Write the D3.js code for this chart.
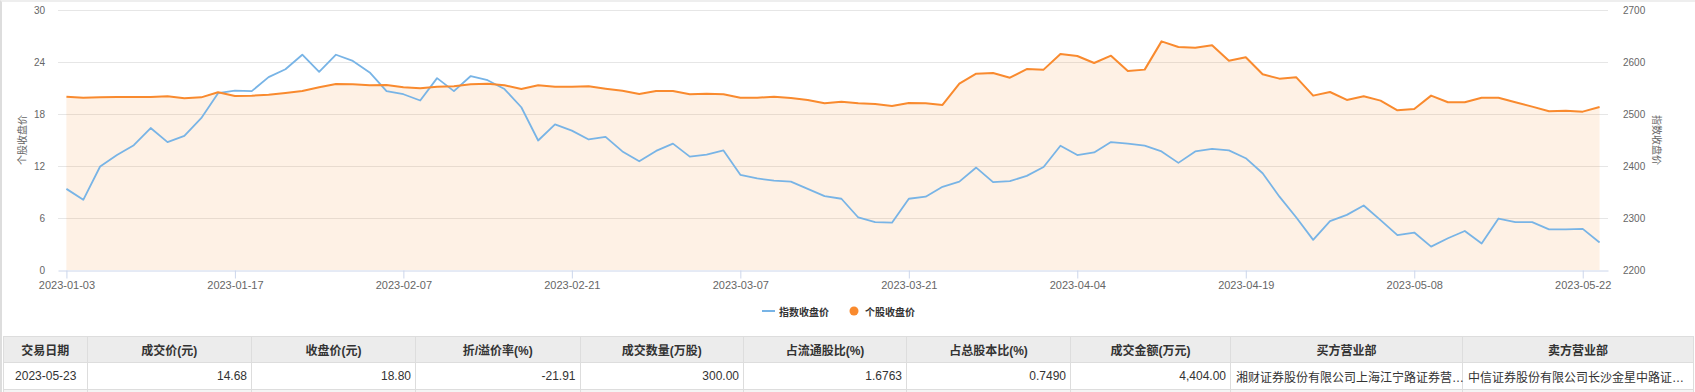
<!DOCTYPE html>
<html>
<head>
<meta charset="utf-8">
<script src="https://cdn.jsdelivr.net/npm/d3@7"></script>
<style>
  body { margin: 0; background: #fff; }
  #wrap { position: relative; width: 1695px; height: 392px; overflow: hidden;
          border-top: 2px solid #eeeeee; border-left: 2px solid #dddddd; box-sizing: border-box; }
  #chart { position: absolute; left: -2px; top: -2px; }
  #tbl { position: absolute; left: 1px; top: 334px; }
  table { border-collapse: collapse; table-layout: fixed; width: 1690px;
          font-family: "Liberation Sans", "Noto Sans CJK SC", sans-serif; font-size: 12px; color: #333; }
  th, td { border: 1px solid #dddddd; white-space: nowrap; }
  th { background: #ececec; height: 25px; font-weight: bold; text-align: center; padding: 0; }
  td { height: 26px; padding: 0 4px 0 5px; }
  tr.next td { height: 6px; background: #f4f4f4; }
</style>
</head>
<body>
<div id="wrap"><svg id="chart"></svg><div id="tbl"></div></div>
<script>
// trading days 2023-01-03 .. 2023-05-23
const dates = [
  '2023-01-03','2023-01-04','2023-01-05','2023-01-06','2023-01-09','2023-01-10','2023-01-11','2023-01-12','2023-01-13','2023-01-16',
  '2023-01-17','2023-01-18','2023-01-19','2023-01-20','2023-01-30','2023-01-31','2023-02-01','2023-02-02','2023-02-03','2023-02-06',
  '2023-02-07','2023-02-08','2023-02-09','2023-02-10','2023-02-13','2023-02-14','2023-02-15','2023-02-16','2023-02-17','2023-02-20',
  '2023-02-21','2023-02-22','2023-02-23','2023-02-24','2023-02-27','2023-02-28','2023-03-01','2023-03-02','2023-03-03','2023-03-06',
  '2023-03-07','2023-03-08','2023-03-09','2023-03-10','2023-03-13','2023-03-14','2023-03-15','2023-03-16','2023-03-17','2023-03-20',
  '2023-03-21','2023-03-22','2023-03-23','2023-03-24','2023-03-27','2023-03-28','2023-03-29','2023-03-30','2023-03-31','2023-04-03',
  '2023-04-04','2023-04-06','2023-04-07','2023-04-10','2023-04-11','2023-04-12','2023-04-13','2023-04-14','2023-04-17','2023-04-18',
  '2023-04-19','2023-04-20','2023-04-21','2023-04-24','2023-04-25','2023-04-26','2023-04-27','2023-04-28','2023-05-04','2023-05-05',
  '2023-05-08','2023-05-09','2023-05-10','2023-05-11','2023-05-12','2023-05-15','2023-05-16','2023-05-17','2023-05-18','2023-05-19',
  '2023-05-22','2023-05-23'
]
// 个股收盘价 (left axis)
const stockClose = [
  20.00,19.88,19.92,19.96,19.96,19.96,20.04,19.81,19.92,20.50,
  20.08,20.12,20.23,20.42,20.65,21.08,21.46,21.42,21.31,21.35,
  21.08,20.96,21.15,21.19,21.42,21.50,21.31,20.88,21.31,21.15,
  21.15,21.19,20.92,20.69,20.31,20.65,20.65,20.27,20.35,20.27,
  19.88,19.88,20.00,19.85,19.62,19.23,19.42,19.23,19.15,18.92,
  19.27,19.23,19.04,21.50,22.65,22.73,22.19,23.19,23.12,24.92,
  24.69,23.88,24.73,22.96,23.12,26.38,25.73,25.65,25.92,24.15,
  24.54,22.58,22.08,22.23,20.12,20.54,19.62,20.04,19.54,18.42,
  18.58,20.12,19.35,19.35,19.88,19.88,19.35,18.85,18.31,18.38,
  18.27,18.80
]
// 指数收盘价 (right axis)
const indexClose = [
  2356,2335,2399,2421,2440,2473,2446,2458,2492,2540,
  2545,2544,2571,2586,2614,2581,2614,2602,2580,2544,
  2538,2526,2569,2544,2573,2565,2548,2513,2449,2480,
  2468,2451,2456,2428,2409,2429,2443,2418,2422,2430,
  2383,2376,2372,2370,2356,2342,2337,2301,2292,2291,
  2337,2341,2360,2370,2397,2369,2371,2381,2398,2439,
  2421,2426,2446,2443,2439,2428,2406,2428,2433,2430,
  2415,2386,2341,2301,2258,2294,2306,2324,2296,2267,
  2272,2245,2261,2275,2251,2299,2292,2292,2278,2278,
  2279,2253
]
const leftTicks = [0, 6, 12, 18, 24, 30]
const rightTicks = [2200, 2300, 2400, 2500, 2600, 2700]
const seriesNames = ['指数收盘价', '个股收盘价']

const tableHeaders = ['交易日期','成交价(元)','收盘价(元)','折/溢价率(%)','成交数量(万股)','占流通股比(%)','占总股本比(%)','成交金额(万元)','买方营业部','卖方营业部']
// broker names as displayed (truncated in the source page)
const tableRow = ['2023-05-23','14.68','18.80','-21.91','300.00','1.6763','0.7490','4,404.00','湘财证券股份有限公司上海江宁路证券营…','中信证券股份有限公司长沙金星中路证…']
const colWidths = [83.5, 164.5, 164, 164.5, 163.5, 163, 164, 160, 232, 231]
const colAlign = ['center','right','right','right','right','right','right','right','left','left']

const W = 1695, H = 336
const plotL = 58, plotR = 1608, plotT = 10, plotB = 270
const fontNum = '"Liberation Sans", "Noto Sans CJK SC", sans-serif'
const fontCJK = '"Noto Sans CJK SC", sans-serif'

const svg = d3.select('#chart').attr('width', W).attr('height', H)

const x = d3.scalePoint().domain(dates).range([plotL, plotR]).padding(0.5)
const yL = d3.scaleLinear().domain([0, 30]).range([plotB, plotT])
const yR = d3.scaleLinear().domain([2200, 2700]).range([plotB, plotT])

// grid
svg.append('g')
  .selectAll('line')
  .data(leftTicks.slice(1))
  .join('line')
  .attr('x1', plotL).attr('x2', plotR)
  .attr('y1', d => yL(d) + 0.5).attr('y2', d => yL(d) + 0.5)
  .attr('stroke', '#e6e6e6')

// area for stock
const area = d3.area()
  .x((d, i) => x(dates[i]))
  .y0(yL(0))
  .y1(d => yL(d))
svg.append('path')
  .datum(stockClose)
  .attr('d', area)
  .attr('fill', 'rgba(250,140,40,0.12)')

// x axis
const xAxis = d3.axisBottom(x)
  .tickValues(dates.filter((d, i) => i % 10 === 0))
  .tickSize(8).tickSizeOuter(0).tickPadding(3)
const gx = svg.append('g').attr('transform', `translate(0,${plotB + 0.5})`).call(xAxis)
gx.select('.domain').attr('stroke', '#ccd6eb')
gx.selectAll('.tick line').attr('stroke', '#ccd6eb')
gx.selectAll('.tick text').attr('fill', '#666').style('font-family', fontNum).style('font-size', '11px')

// left axis
const gl = svg.append('g').attr('transform', `translate(${plotL},0)`)
  .call(d3.axisLeft(yL).tickValues(leftTicks).tickSize(0).tickPadding(13))
gl.select('.domain').remove()
gl.selectAll('text').attr('fill', '#666').style('font-family', fontNum).style('font-size', '10px')

// right axis
const gr = svg.append('g').attr('transform', `translate(${plotR},0)`)
  .call(d3.axisRight(yR).tickValues(rightTicks).tickFormat(d3.format('d')).tickSize(0).tickPadding(15))
gr.select('.domain').remove()
gr.selectAll('text').attr('fill', '#666').style('font-family', fontNum).style('font-size', '10px')

// axis titles
svg.append('text')
  .attr('transform', `translate(21,${(plotT + plotB) / 2}) rotate(-90)`)
  .attr('text-anchor', 'middle').attr('dominant-baseline', 'central')
  .attr('fill', '#666').style('font-family', fontCJK).style('font-size', '10px')
  .text(seriesNames[1])
svg.append('text')
  .attr('transform', `translate(1657,${(plotT + plotB) / 2}) rotate(90)`)
  .attr('text-anchor', 'middle').attr('dominant-baseline', 'central')
  .attr('fill', '#666').style('font-family', fontCJK).style('font-size', '10px')
  .text(seriesNames[0])

// lines
const lineStock = d3.line().x((d, i) => x(dates[i])).y(d => yL(d))
const lineIndex = d3.line().x((d, i) => x(dates[i])).y(d => yR(d))
svg.append('path').datum(indexClose).attr('d', lineIndex)
  .attr('fill', 'none').attr('stroke', '#78b4e6').attr('stroke-width', 1.8).attr('stroke-linejoin', 'round')
svg.append('path').datum(stockClose).attr('d', lineStock)
  .attr('fill', 'none').attr('stroke', '#f98a2e').attr('stroke-width', 2).attr('stroke-linejoin', 'round')

// legend
const lg = svg.append('g').attr('transform', 'translate(0,311)')
lg.append('line').attr('x1', 762).attr('x2', 775).attr('y1', 0).attr('y2', 0)
  .attr('stroke', '#78b4e6').attr('stroke-width', 2)
lg.append('text').attr('x', 779).attr('dominant-baseline', 'central')
  .attr('fill', '#333').style('font-family', fontCJK).style('font-size', '10px').style('font-weight', 'bold')
  .text(seriesNames[0])
lg.append('circle').attr('cx', 854).attr('cy', 0).attr('r', 4.5).attr('fill', '#f98a2e')
lg.append('text').attr('x', 865).attr('dominant-baseline', 'central')
  .attr('fill', '#333').style('font-family', fontCJK).style('font-size', '10px').style('font-weight', 'bold')
  .text(seriesNames[1])

// table
const table = d3.select('#tbl').append('table')
table.append('colgroup').selectAll('col').data(colWidths).join('col').style('width', d => d + 'px')
table.append('thead').append('tr').selectAll('th').data(tableHeaders).join('th').text(d => d)
const tb = table.append('tbody')
tb.append('tr').selectAll('td').data(tableRow).join('td')
  .style('text-align', (d, i) => colAlign[i])
  .text(d => d)
tb.append('tr').attr('class', 'next').selectAll('td').data(tableRow).join('td')
</script>
</body>
</html>
